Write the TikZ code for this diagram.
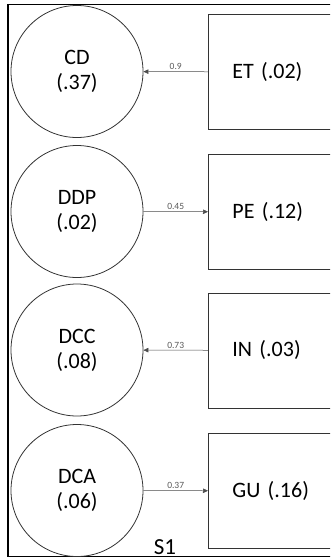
\documentclass[tikz,border=0pt]{standalone}
\usepackage{fontspec}
\setmainfont{Carlito}
\usetikzlibrary{arrows.meta}
\begin{document}
\begin{tikzpicture}[x=1pt, y=-1pt,
  latent/.style={circle, draw=black!80, line width=0.8pt, minimum size=132pt,
    inner sep=0pt, align=center, font=\fontsize{22}{25}\selectfont},
  observed/.style={rectangle, draw=black!80, line width=0.8pt, anchor=north west,
    minimum width=150pt, minimum height=115pt, inner xsep=24pt,
    text width=102pt, align=left, font=\fontsize{22}{25}\selectfont},
  path/.style={draw=black!70, line width=0.5pt, -{Triangle[length=5pt, width=4.5pt]}},
  coef/.style={font=\fontsize{9.5}{11}\selectfont, text=black!65, above, inner sep=1.5pt}]
  \useasboundingbox (0,0) rectangle (330,560);
  \clip (0,0) rectangle (330,560);
  % outer frame
  \draw[line width=1.5pt] (8,4.5) rectangle (345,556.5);
  % latent variables
  \node[latent] (cd)  at (77,71.5)  {CD\\(.37)};
  \node[latent] (ddp) at (77,211.5) {DDP\\(.02)};
  \node[latent] (dcc) at (77,350)   {DCC\\(.08)};
  \node[latent] (dca) at (77,490.5) {DCA\\(.06)};
  % observed indicators
  \node[observed] (et) at (208,14)  {ET (.02)};
  \node[observed] (pe) at (208,154) {PE (.12)};
  \node[observed] (in) at (208,292.5) {IN (.03)};
  \node[observed] (gu) at (208,433) {GU (.16)};
  % paths
  \draw[path] (et) -- node[coef] {0.9} (cd);
  \draw[path] (ddp) -- node[coef] {0.45} (pe);
  \draw[path] (in) -- node[coef] {0.73} (dcc);
  \draw[path] (dca) -- node[coef] {0.37} (gu);
  % group label
  \node[font=\fontsize{23}{26}\selectfont, anchor=base] (s1) at (165,554) {S1};
\end{tikzpicture}
\end{document}
